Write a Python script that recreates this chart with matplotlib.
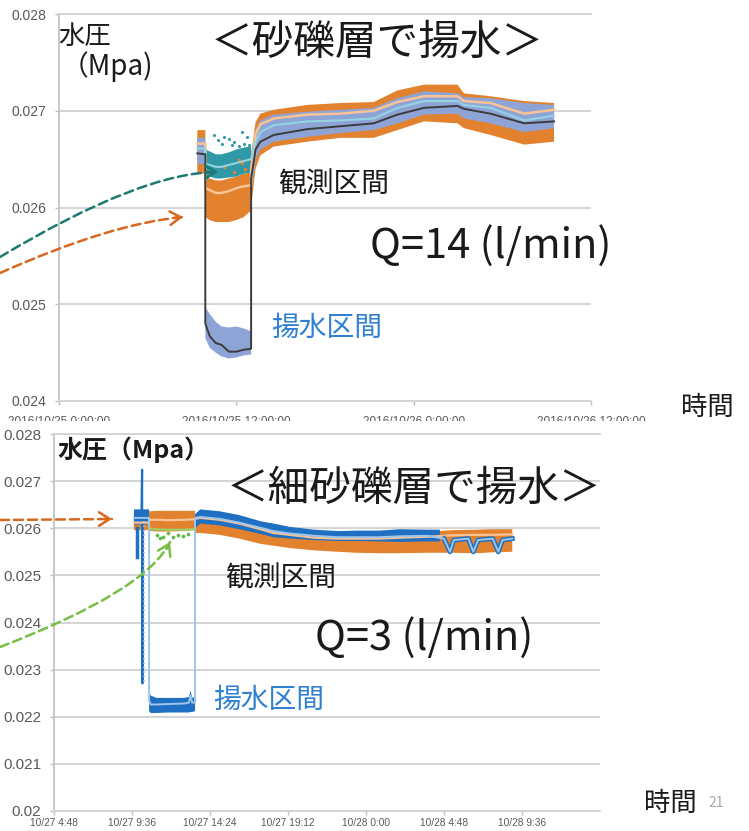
import numpy as np
import matplotlib
matplotlib.use('Agg')
import matplotlib.pyplot as plt
from matplotlib.patches import FancyArrowPatch, Rectangle

plt.rcParams['font.family'] = ['Noto Sans CJK JP', 'DejaVu Sans']

W, H = 749, 831

# ---------------- top panel (hours since 2016/10/25 0:00) ----------------
TOP_XTICKS = [0, 12, 24, 36]
TOP_XTICK_LABELS = ['2016/10/25 0:00:00', '2016/10/25 12:00:00',
                    '2016/10/26 0:00:00', '2016/10/26 12:00:00']
TOP_YTICKS = [0.024, 0.025, 0.026, 0.027, 0.028]
TOP_YTICK_LABELS = ['0.024', '0.025', '0.026', '0.027', '0.028']

TOP_T = [9.36, 9.9, 9.9, 10.2, 10.6, 11.0, 11.5, 12.0, 12.5, 13.0, 13.0, 13.3,
         13.63, 14.53, 16.8, 19.05, 21.3, 22.9, 24.7, 26.96, 27.4, 29.2, 31.48, 33.5]
ORANGE_HI = [0.02680, 0.02680, 0.02632, 0.02630, 0.02628, 0.02628, 0.02630, 0.02632,
             0.02635, 0.02636, 0.02655, 0.02688, 0.02697, 0.02701, 0.02706, 0.02708,
             0.02709, 0.02721, 0.02727, 0.02727, 0.02718, 0.02715, 0.02710, 0.02708]
ORANGE_LO = [0.02635, 0.02635, 0.02590, 0.02587, 0.02585, 0.02585, 0.02585, 0.02587,
             0.02590, 0.02597, 0.02600, 0.02640, 0.02654, 0.02663, 0.02668, 0.02672,
             0.02672, 0.02680, 0.02689, 0.02687, 0.02682, 0.02675, 0.02665, 0.02668]
BG_HI = [0.02672, 0.02672, 0.02497, 0.02490, 0.02482, 0.02477, 0.02476, 0.02477,
         0.02475, 0.02472, 0.02645, 0.02680, 0.02690, 0.02696, 0.02699, 0.02701,
         0.02703, 0.02713, 0.02720, 0.02718, 0.02714, 0.02713, 0.02708, 0.02706]
BG_LO = [0.02645, 0.02645, 0.02465, 0.02455, 0.02450, 0.02446, 0.02444, 0.02445,
         0.02447, 0.02448, 0.02610, 0.02650, 0.02660, 0.02668, 0.02673, 0.02677,
         0.02680, 0.02687, 0.02696, 0.02697, 0.02692, 0.02687, 0.02678, 0.02682]
PEACH_TOP = [0.02666, 0.02666, 0.02620, 0.02618, 0.02615, 0.02615, 0.02617, 0.02620,
             0.02622, 0.02623, 0.02640, 0.02676, 0.02686, 0.02692, 0.02696, 0.02697,
             0.02700, 0.02709, 0.02715, 0.02715, 0.02710, 0.02708, 0.02697, 0.02701]
CYAN_TOP = [0.02661, 0.02661, 0.02645, 0.02644, 0.02642, 0.02642, 0.02644, 0.02646,
            0.02648, 0.02650, 0.02650, 0.02668, 0.02678, 0.02685, 0.02689, 0.02690,
            0.02692, 0.02703, 0.02710, 0.02710, 0.02706, 0.02703, 0.02690, 0.02695]
BLACK_TOP = [0.02656, 0.02655, 0.02480, 0.02467, 0.02460, 0.02458, 0.02451, 0.02451,
             0.02453, 0.02454, 0.02630, 0.02660, 0.02668, 0.02675, 0.02681, 0.02684,
             0.02687, 0.02696, 0.02703, 0.02705, 0.02702, 0.02697, 0.02687, 0.02689]

TEAL_T = [9.9, 10.2, 10.6, 11.0, 11.5, 12.0, 12.5, 13.0]
TEAL_HI = [0.02660, 0.02658, 0.02655, 0.02655, 0.02657, 0.02660, 0.02662, 0.02663]
TEAL_LO = [0.02633, 0.02632, 0.02630, 0.02630, 0.02631, 0.02632, 0.02635, 0.02636]
TEAL_DOT_T = [10.46, 10.76, 11.14, 11.48, 11.82, 12.39, 12.50, 11.71, 11.03, 12.16, 12.72, 12.84]
TEAL_DOT_V = [0.02675, 0.02670, 0.02673, 0.02671, 0.02668, 0.02678, 0.02666, 0.02665,
              0.02666, 0.02664, 0.02673, 0.02665]
ORANGE_DOT_T = [12.16, 12.39, 11.14, 11.82, 12.61]
ORANGE_DOT_V = [0.02649, 0.02646, 0.02642, 0.02637, 0.02640]

# ---------------- bottom panel (hours since 10/27 4:48) ----------------
BOT_XTICKS = [0, 4.8, 9.6, 14.4, 19.2, 24.0, 28.8]
BOT_XTICK_LABELS = ['10/27 4:48', '10/27 9:36', '10/27 14:24', '10/27 19:12',
                    '10/28 0:00', '10/28 4:48', '10/28 9:36']
BOT_YTICKS = [0.020, 0.021, 0.022, 0.023, 0.024, 0.025, 0.026, 0.027, 0.028]
BOT_YTICK_LABELS = ['0.02', '0.021', '0.022', '0.023', '0.024', '0.025', '0.026', '0.027', '0.028']

OR_T = [4.92, 5.85, 5.85, 6.5, 7.0, 8.0, 8.68, 8.68, 9.0, 10.2, 11.4, 12.7, 13.5, 14.5,
        16.0, 17.5, 18.6, 20.0, 21.3, 23.0, 24.5, 26.0, 27.0, 28.2]
OR_HI = [0.02620, 0.02620, 0.02636, 0.02637, 0.02637, 0.02637, 0.02637, 0.02625, 0.02628,
         0.02624, 0.02616, 0.02604, 0.02598, 0.02594, 0.02590, 0.02588, 0.02588, 0.02588,
         0.02590, 0.02592, 0.02596, 0.02597, 0.02598, 0.02598]
OR_LO = [0.02596, 0.02596, 0.02594, 0.02593, 0.02593, 0.02594, 0.02596, 0.02590, 0.02590,
         0.02586, 0.02578, 0.02567, 0.02563, 0.02558, 0.02553, 0.02550, 0.02548, 0.02547,
         0.02547, 0.02548, 0.02548, 0.02547, 0.02549, 0.02550]
PEACH_BOT = [0.02612, 0.02612, 0.02618, 0.02618, 0.02617, 0.02618, 0.02619, 0.02620,
             0.02622, 0.02618, 0.02610, 0.02598, 0.02590, 0.02586, 0.02580, 0.02578,
             0.02578, 0.02578, 0.02580, 0.02582, 0.02585, 0.02586, 0.02586, 0.02587]

BL_T = [4.92, 5.85, 5.85, 5.95, 6.3, 7.0, 8.0, 8.3, 8.4, 8.5, 8.68, 8.68, 9.0, 10.2,
        11.4, 12.7, 13.5, 14.5, 16.0, 17.5, 18.6, 20.0, 21.3, 23.0, 23.75]
BL_HI = [0.02640, 0.02640, 0.02255, 0.02245, 0.02240, 0.02240, 0.02240, 0.02242, 0.02255,
         0.02241, 0.02240, 0.02630, 0.02640, 0.02636, 0.02628, 0.02615, 0.02610, 0.02603,
         0.02597, 0.02594, 0.02595, 0.02595, 0.02598, 0.02597, 0.02597]
BL_LO = [0.02608, 0.02608, 0.02212, 0.02208, 0.02208, 0.02209, 0.02209, 0.02209, 0.02210,
         0.02210, 0.02212, 0.02600, 0.02610, 0.02606, 0.02598, 0.02588, 0.02581, 0.02578,
         0.02575, 0.02573, 0.02573, 0.02572, 0.02571, 0.02572, 0.02572]

LB_T = [4.92, 5.85, 5.85, 5.95, 6.3, 7.0, 8.0, 8.3, 8.4, 8.5, 8.68, 8.68, 9.0, 10.2, 11.4,
        12.7, 13.5, 14.5, 16.0, 17.5, 18.6, 20.0, 21.3, 23.0, 24.0, 24.37, 24.6, 25.5,
        25.8, 26.1, 27.0, 27.34, 27.6, 28.2]
LB_V = [0.02622, 0.02622, 0.02235, 0.02226, 0.02226, 0.02227, 0.02228, 0.02230, 0.02245,
        0.02230, 0.02230, 0.02622, 0.02624, 0.02620, 0.02612, 0.02601, 0.02594, 0.02589,
        0.02584, 0.02581, 0.02581, 0.02581, 0.02583, 0.02584, 0.02578, 0.02550, 0.02575,
        0.02578, 0.02550, 0.02575, 0.02578, 0.02550, 0.02575, 0.02578]

SPIKE_T = [5.38, 5.42, 5.44, 5.47]
SPIKE_V = [0.02620, 0.02724, 0.02271, 0.02610]
FRAG_T = [5.10, 5.10]
FRAG_V = [0.02600, 0.02540]
DROP_T = [5.55, 5.55]
DROP_V = [0.02615, 0.02272]

GREEN_T = [5.9, 6.0, 7.0, 8.0, 8.65]
GREEN_V = [0.02601, 0.02598, 0.02597, 0.02597, 0.02598]
GREEN_DOT_T = [6.32, 6.73, 7.03, 7.34, 7.65, 7.96, 8.27, 6.52]
GREEN_DOT_V = [0.02586, 0.02582, 0.02589, 0.02581, 0.02586, 0.02583, 0.02588, 0.02579]

# ---------------- colours ----------------
C_ORANGE = '#E3822E'
C_BG = '#8FA4D6'
C_TEAL = '#2F99A8'
C_PEACH = '#F9C394'
C_CYAN = '#93D4E2'
C_BLACK = '#3C3C3C'
C_BLUE = '#1F6FC3'
C_LBLUE = '#9EC5EA'
C_GREEN = '#5FB843'
C_LGREEN = '#9AD26A'
C_TXTBLUE = '#2F80D0'
TICK_COLOR = '#595959'
GRID = '#D4D4D4'

fig = plt.figure(figsize=(W / 100, H / 100), dpi=100)
fig.patch.set_facecolor('white')


def fx(x):
    return x / W


def fy(y):
    return 1 - y / H


def axes_px(l, t, r, b, z):
    ax = fig.add_axes([fx(l), fy(b), (r - l) / W, (b - t) / H])
    ax.set_zorder(z)
    return ax


def style(ax, xlim, ylim, xt, xtl, yt, ytl, xfs, yfs, xpad):
    ax.set_xlim(*xlim)
    ax.set_ylim(*ylim)
    ax.set_xticks(xt)
    ax.set_xticklabels(xtl, fontsize=xfs, color=TICK_COLOR, family='Liberation Sans')
    ax.set_yticks(yt)
    ax.set_yticklabels(ytl, fontsize=yfs, color=TICK_COLOR, family='Liberation Sans')
    ax.set_axisbelow(True)
    ax.grid(axis='y', color=GRID, lw=1.4)
    ax.spines['right'].set_visible(False)
    for s in ['top', 'bottom']:
        ax.spines[s].set_color(GRID)
        ax.spines[s].set_linewidth(1.4)
    ax.spines['left'].set_color('#C4C4C4')
    ax.spines['left'].set_linewidth(1.3)
    ax.tick_params(axis='y', length=3, width=1, color='#BFBFBF', pad=6)
    ax.tick_params(axis='x', length=3, width=1, color='#BFBFBF', pad=xpad)


def band(ax, x, lo, hi, color, z):
    ax.fill_between(x, lo, hi, facecolor=color, lw=0, zorder=z)


# ---------------- top axes ----------------
ax1 = axes_px(59, 14, 591, 401, 0)
style(ax1, (0, 36), (0.024, 0.028), TOP_XTICKS, TOP_XTICK_LABELS,
      TOP_YTICKS, TOP_YTICK_LABELS, 8.5, 10, 8)

band(ax1, TOP_T, ORANGE_LO, ORANGE_HI, C_ORANGE, 2)
band(ax1, TOP_T, BG_LO, BG_HI, C_BG, 3)
band(ax1, TEAL_T, TEAL_LO, TEAL_HI, C_TEAL, 4)
ax1.scatter(TEAL_DOT_T, TEAL_DOT_V, s=5, color=C_TEAL, lw=0, zorder=4.5)
ax1.scatter(ORANGE_DOT_T, ORANGE_DOT_V, s=6, color=C_ORANGE, lw=0, zorder=4.6)
ax1.plot(TOP_T, PEACH_TOP, color=C_PEACH, lw=1.8, zorder=5)
ax1.plot(TOP_T, CYAN_TOP, color=C_CYAN, lw=1.5, zorder=6)
ax1.plot(TOP_T, BLACK_TOP, color=C_BLACK, lw=1.4, zorder=7)

# ---------------- white cover and bottom axes ----------------
fig.patches.append(Rectangle((0, 0), fx(645), 1 - 421 / H, transform=fig.transFigure,
                             facecolor='white', edgecolor='none', zorder=1))

ax2 = axes_px(54, 434, 600, 811, 2)
style(ax2, (0, 33.6), (0.020, 0.028), BOT_XTICKS, BOT_XTICK_LABELS,
      BOT_YTICKS, BOT_YTICK_LABELS, 7.3, 11, 2)

band(ax2, OR_T, OR_LO, OR_HI, C_ORANGE, 2)
band(ax2, BL_T, BL_LO, BL_HI, C_BLUE, 3)
ax2.plot(SPIKE_T, SPIKE_V, color=C_BLUE, lw=1.6, zorder=3.5)
ax2.plot(FRAG_T, FRAG_V, color=C_BLUE, lw=2.5, zorder=3.5)
ax2.plot(DROP_T, DROP_V, color=C_LBLUE, lw=1.2, ls=':', zorder=3.5)
ax2.plot(OR_T, PEACH_BOT, color=C_PEACH, lw=1.6, zorder=4)
lb_t = np.array(LB_T)
lb_v = np.array(LB_V)
late = lb_t >= 23.5
ax2.plot(lb_t[late], lb_v[late], color=C_BLUE, lw=3.5, zorder=4.5)
ax2.plot(LB_T, LB_V, color=C_LBLUE, lw=1.4, zorder=5)
ax2.plot(GREEN_T, GREEN_V, color=C_LGREEN, lw=1.5, zorder=5)
ax2.scatter(GREEN_DOT_T, GREEN_DOT_V, s=7, color=C_GREEN, lw=0, zorder=5)

# ---------------- dashed arrows (figure pixel geometry) ----------------
def dashed_arrow(p0, p1, conn, color, head_from):
    a = FancyArrowPatch((fx(p0[0]), fy(p0[1])), (fx(p1[0]), fy(p1[1])),
                        transform=fig.transFigure, arrowstyle='-',
                        connectionstyle=conn,
                        color=color, lw=1.8, linestyle=(0, (3.6, 2.0)), zorder=10,
                        shrinkA=0, shrinkB=0)
    fig.add_artist(a)
    h = FancyArrowPatch((fx(head_from[0]), fy(head_from[1])), (fx(p1[0]), fy(p1[1])),
                        transform=fig.transFigure,
                        arrowstyle='->,head_length=0.55,head_width=0.35',
                        mutation_scale=14, color=color, lw=1.8, zorder=10,
                        shrinkA=0, shrinkB=0)
    fig.add_artist(h)


dashed_arrow((0, 257), (218, 172), 'angle3,angleA=31,angleB=0', '#1C7A70', (210, 172))
dashed_arrow((0, 273), (183, 217), 'angle3,angleA=24,angleB=5', '#D4691F', (175, 217.7))
dashed_arrow((0, 520), (112, 519), 'arc3,rad=0', '#D4691F', (104, 519))
dashed_arrow((0, 647), (170, 542), 'angle3,angleA=21,angleB=64', '#78BE44', (166.5, 549))

# ---------------- texts ----------------
def t(x, y, s, size, color='#1A1A1A', ha='center', weight='normal'):
    fig.text(fx(x), fy(y), s, fontsize=size, color=color, ha=ha, va='center',
             fontweight=weight, zorder=12)


t(58, 36, '水圧', 19, ha='left')
t(61, 67, '（Mpa)', 20, ha='left')
t(377, 43, '＜砂礫層で揚水＞', 30)
t(334, 185, '観測区間', 20)
t(491, 246, 'Q=14 (l/min)', 30)
t(327, 328, '揚水区間', 20, color=C_TXTBLUE)
t(707, 407, '時間', 19)

t(57, 450, '水圧（Mpa）', 18, ha='left', weight='bold')
t(414, 489, '＜細砂礫層で揚水＞', 30)
t(281, 579, '観測区間', 20)
t(424, 638, 'Q=3 (l/min)', 30)
t(269, 700, '揚水区間', 20, color=C_TXTBLUE)
t(670, 803, '時間', 19)
t(716, 803, '21', 10, color='#A6A6A6')

fig.savefig('out.png', dpi=100)
